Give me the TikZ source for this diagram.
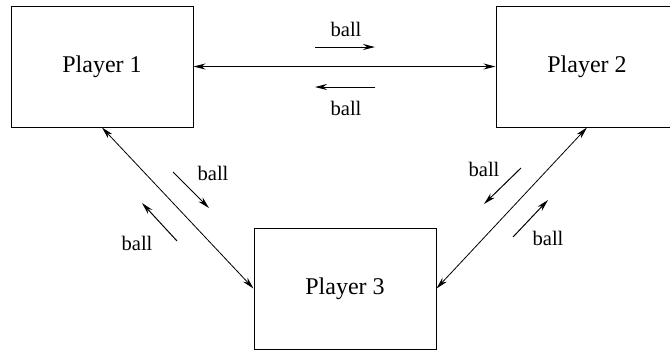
\documentclass[tikz,border=0pt]{standalone}
\usepackage{fontspec}
\setmainfont{Liberation Serif}
\newfontfamily\playerfont{Liberation Serif}
\usetikzlibrary{arrows.meta, positioning}
\tikzset{
    playerbox/.style={draw, rectangle, minimum width=91pt, minimum height=60.5pt, inner sep=0pt, line width=0.5pt, font=\playerfont\fontsize{12}{14}\selectfont},
    passarrow/.style={{Stealth[length=6pt, width=3pt]}-{Stealth[length=6pt, width=3pt]}, line width=0.4pt},
    ballarrow/.style={-{Stealth[length=6pt, width=3pt]}, line width=0.5pt},
    balllabel/.style={font=\playerfont\fontsize{10.3}{12}\selectfont, inner sep=0pt},
}
\begin{document}
\begin{tikzpicture}[x=0.5pt, y=-0.5pt]
    \useasboundingbox (0,0) rectangle (670,350);
    \node[playerbox] (p1) at (102,66.5) {Player 1};
    \node[playerbox] (p2) at (587,66.5) {Player 2};
    \node[playerbox] (p3) at (345,288.5) {Player 3};

    \draw[passarrow] (p1.east) -- (p2.west);
    \draw[passarrow] (p1.south) -- (p3.west);
    \draw[passarrow] (p2.south) -- (p3.east);

    % direction markers
    \coordinate (t1) at (315,47);  \coordinate (t2) at (375,47);
    \coordinate (b1) at (375,87);  \coordinate (b2) at (315,87);
    \coordinate (l1) at (173,172); \coordinate (l2) at (209,208);
    \coordinate (l3) at (177,241); \coordinate (l4) at (142,203);
    \coordinate (r1) at (521,168); \coordinate (r2) at (484,204);
    \coordinate (r3) at (513,237); \coordinate (r4) at (548,200);
    \draw[ballarrow] (t1) -- (t2);
    \draw[ballarrow] (b1) -- (b2);
    \draw[ballarrow] (l1) -- (l2);
    \draw[ballarrow] (l3) -- (l4);
    \draw[ballarrow] (r1) -- (r2);
    \draw[ballarrow] (r3) -- (r4);

    \node[balllabel] (bt) at (346,29) {ball};
    \node[balllabel] (bb) at (346,108) {ball};
    \node[balllabel] (bl1) at (213,173) {ball};
    \node[balllabel] (bl2) at (137,243) {ball};
    \node[balllabel] (br1) at (484,169) {ball};
    \node[balllabel] (br2) at (548,238) {ball};
\end{tikzpicture}
\end{document}
